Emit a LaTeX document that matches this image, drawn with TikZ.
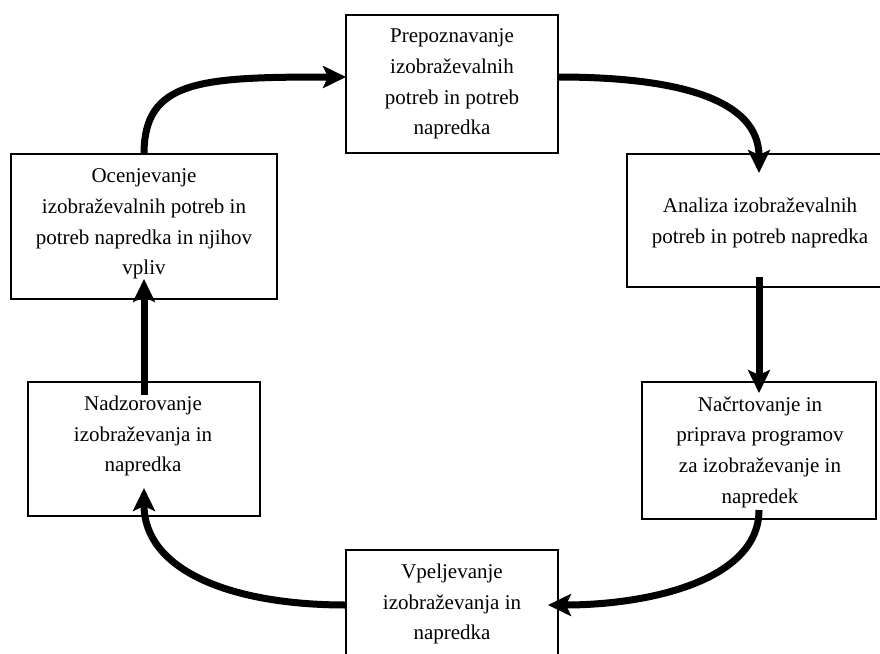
\documentclass[tikz,border=0pt]{standalone}
\usepackage{fontspec}
\setmainfont{Liberation Serif}
\usetikzlibrary{arrows.meta}
\begin{document}
\begin{tikzpicture}[x=1pt,y=-1pt,
  box/.style={draw=black,line width=1.6pt,rectangle,inner sep=0pt,outer sep=0pt},
  txt/.style={align=center,inner sep=0pt,font=\fontsize{21}{30.7}\selectfont},
  flow/.style={line width=7pt,-{Stealth[length=23pt,width=22pt,inset=5pt]}}]
\useasboundingbox (0,0) rectangle (880,653);
\clip (0,0) rectangle (880,653);
% boxes
\node[box,minimum width=212pt,minimum height=138pt] (P) at (452,84) {};
\node[box,minimum width=266pt,minimum height=145pt] (O) at (144,226.5) {};
\node[box,minimum width=264pt,minimum height=133pt] (A) at (759,220.5) {};
\node[box,minimum width=232pt,minimum height=134pt] (N) at (144,449) {};
\node[box,minimum width=234pt,minimum height=137pt] (C) at (759,450.5) {};
\node[box,minimum width=212pt,minimum height=150pt] (V) at (452,625) {};
% texts
\node[txt] (Pt) at (452,84) {Prepoznavanje\\izobraževalnih\\potreb in potreb\\napredka};
\node[txt] (Ot) at (144,224) {Ocenjevanje\\izobraževalnih potreb in\\potreb napredka in njihov\\vpliv};
\node[txt] (At) at (760,223) {Analiza izobraževalnih\\potreb in potreb napredka};
\node[txt] (Nt) at (143,436) {Nadzorovanje\\izobraževanja in\\napredka};
\node[txt] (Ct) at (760,452) {Načrtovanje in\\priprava programov\\za izobraževanje in\\napredek};
\node[txt] (Vt) at (452,604) {Vpeljevanje\\izobraževanja in\\napredka};
% connectors
\draw[flow] (O.north) .. controls +(0,-74) and +(-146,0) .. ([yshift=7pt]P.west);
\draw[flow] ([yshift=7pt]P.east) .. controls +(122,0) and +(0,-73) .. ([yshift=-19pt]A.north);
\draw[flow] ([yshift=10pt]A.south) -- ([yshift=-11pt]C.north);
\draw[flow] ([yshift=9pt]C.south) .. controls +(0,70) and +(102,0) .. ([xshift=-10pt,yshift=20pt]V.east);
\draw[flow] ([yshift=20pt]V.west) .. controls +(-116,0) and +(0,82) .. ([yshift=28pt]N.south);
\draw[flow] ([yshift=-13pt]N.north) -- ([yshift=20pt]O.south);
\end{tikzpicture}
\end{document}
